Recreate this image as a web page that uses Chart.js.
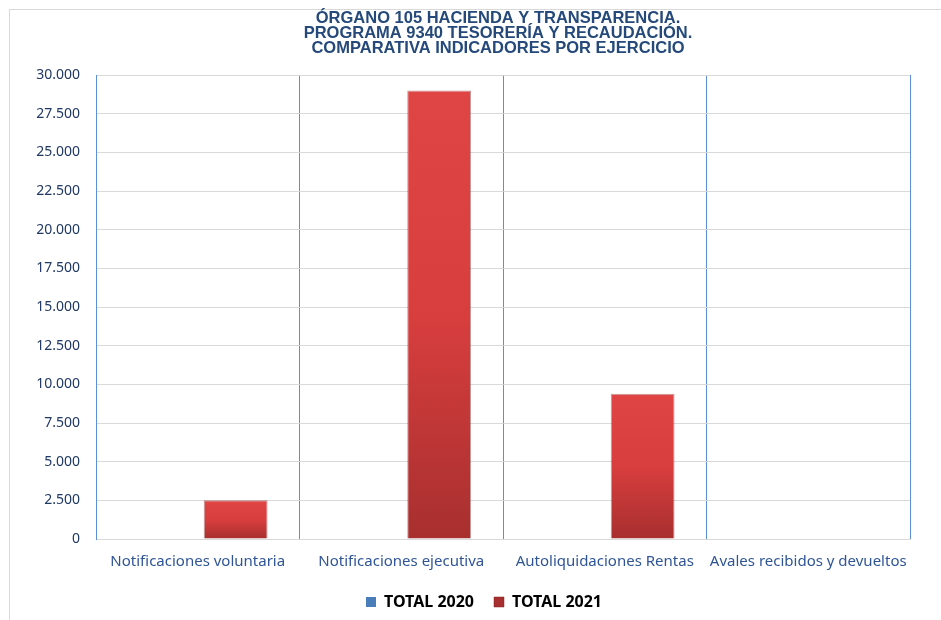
<!DOCTYPE html>
<html>
<head>
<meta charset="utf-8">
<script src="https://cdn.jsdelivr.net/npm/chart.js@4"></script>
<style>
  body { margin: 0; background: #fff; overflow: hidden; }
  .frame { position: absolute; left: 9px; top: 9px; width: 960px; height: 660px;
           border-left: 1px solid #d9d9d9; border-top: 1px solid #d9d9d9; }
  #myChart { position: absolute; left: 0; top: 0; }
</style>
</head>
<body>
<div class="frame"></div>
<canvas id="myChart" width="941" height="640"></canvas>
<script>
// data
const categories = ['Notificaciones voluntaria', 'Notificaciones ejecutiva', 'Autoliquidaciones Rentas', 'Avales recibidos y devueltos']
const total2020 = [0, 0, 0, 0]
const total2021 = [2500, 29000, 9400, 0]
const titleLines = ['ÓRGANO 105 HACIENDA Y TRANSPARENCIA.', 'PROGRAMA 9340 TESORERÍA Y RECAUDACIÓN.', 'COMPARATIVA INDICADORES POR EJERCICIO']

const fmt = v => String(v).replace(/\B(?=(\d{3})+(?!\d))/g, '.')

// per bar top-to-bottom shading, like the excel bevel look
const barFill = (light, mid, dark, flat) => ctx => {
    const y = ctx.chart.scales.y
    if (ctx.type !== 'data' || !y) return flat
    const top = y.getPixelForValue(ctx.raw)
    const bottom = y.getPixelForValue(0)
    if (!isFinite(top) || !isFinite(bottom) || top === bottom) return flat
    const g = ctx.chart.ctx.createLinearGradient(0, top, 0, bottom)
    g.addColorStop(0, light)
    g.addColorStop(0.5, mid)
    g.addColorStop(1, dark)
    return g
}

// nudge legend and title sideways to where excel put them
const nudge = {
    id: 'nudge',
    afterLayout(chart) {
        chart.legend.left += 24
        chart.legend.right += 24
        chart.titleBlock.left -= 5
        chart.titleBlock.right -= 5
    }
}

let myChart = document.getElementById('myChart').getContext('2d')
let chart = new Chart(myChart, {
    type: 'bar',
    data: {
        labels: categories,
        datasets: [{
            label: 'TOTAL 2020',
            data: total2020,
            backgroundColor: barFill('#5a8fd0', '#4a7ebb', '#3a66a8', '#4a7ebb'),
            borderWidth: 0
        }, {
            label: 'TOTAL 2021',
            data: total2021,
            backgroundColor: barFill('#e04545', '#d83e3e', '#a82f2f', '#d03a3a'),
            borderColor: 'rgba(120, 25, 25, 0.45)',
            borderWidth: 1
        }]
    },
    options: {
        responsive: false,
        animation: false,
        categoryPercentage: 0.745,
        barPercentage: 0.842,
        layout: {
            padding: { left: 10, right: 31, top: 0, bottom: 20 }
        },
        plugins: {
            title: {
                display: true,
                text: titleLines,
                color: '#24497a',
                fullSize: false,
                font: { family: 'Liberation Sans', size: 16.5, weight: 'bold', lineHeight: 0.9 },
                padding: { top: 11, bottom: 19.5 }
            },
            legend: {
                position: 'bottom',
                labels: {
                    color: '#000',
                    boxWidth: 10,
                    boxHeight: 10,
                    padding: 20,
                    font: { family: 'Noto Sans', size: 16, weight: 'bold' }
                }
            },
            tooltip: { enabled: false }
        },
        scales: {
            x: {
                afterFit: s => { s.height = 35 },
                grid: {
                    color: '#5b8fd9',
                    drawTicks: false
                },
                border: { display: true, color: '#d9d9d9' },
                ticks: {
                    color: '#2f5597',
                    padding: 14,
                    maxRotation: 0,
                    font: { family: 'Noto Sans', size: 15 }
                }
            },
            y: {
                min: 0,
                max: 30000,
                afterFit: s => { s.width = 86 },
                grid: {
                    color: '#d9d9d9',
                    drawTicks: false
                },
                border: { display: true, color: '#5b8fd9' },
                ticks: {
                    stepSize: 2500,
                    color: '#203864',
                    padding: 16,
                    font: { family: 'Noto Sans', size: 14 },
                    callback: v => fmt(v)
                }
            }
        }
    },
    plugins: [nudge]
})
</script>
</body>
</html>
